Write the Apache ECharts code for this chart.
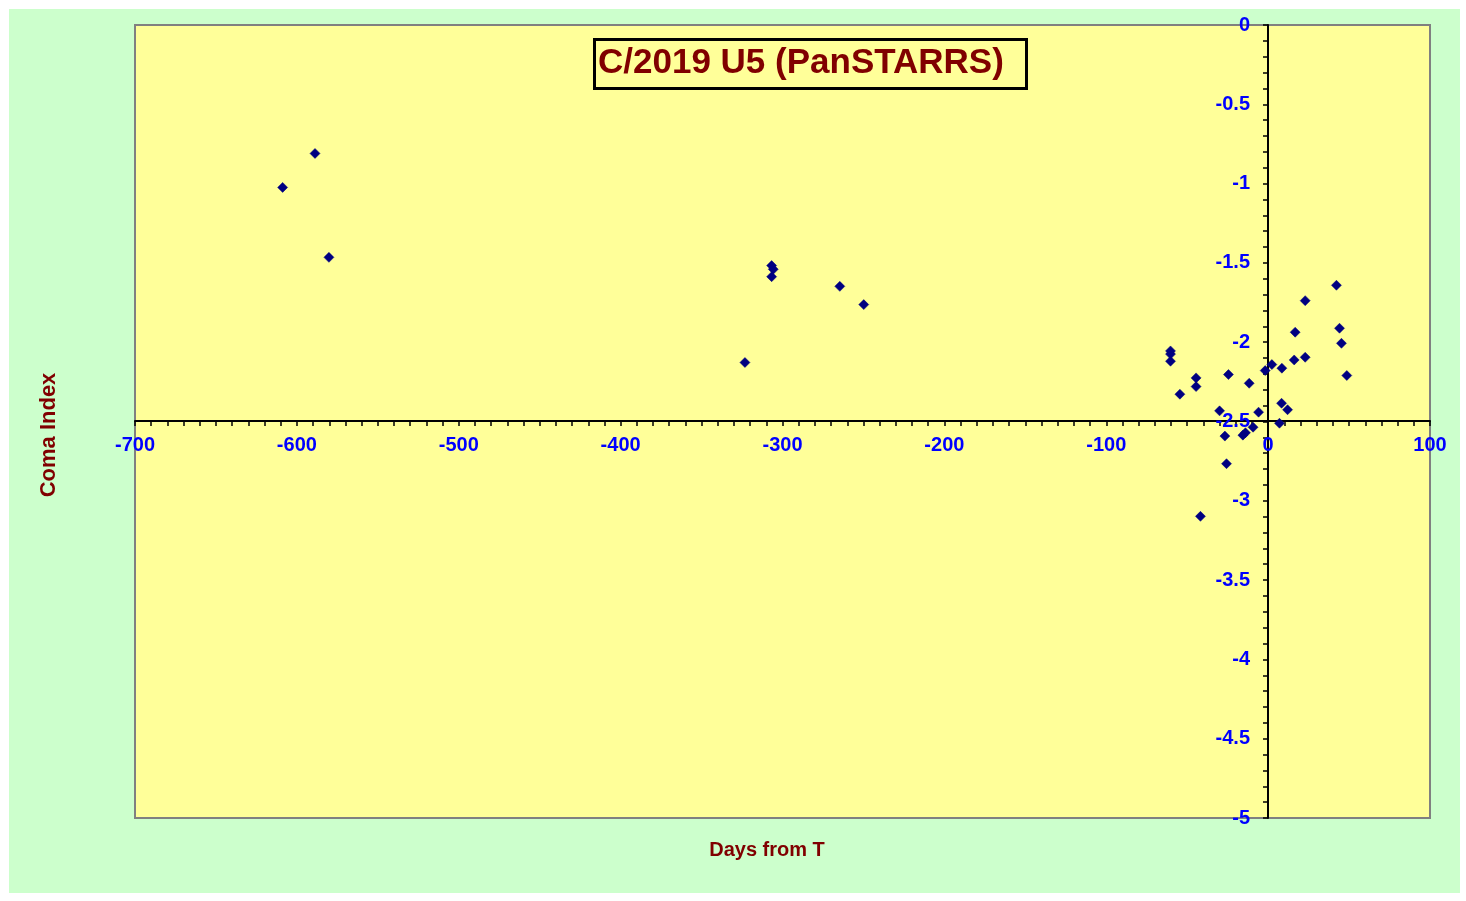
<!DOCTYPE html>
<html><head><meta charset="utf-8">
<script src="https://cdn.jsdelivr.net/npm/echarts@6/dist/echarts.min.js"></script>
<style>
html,body{margin:0;padding:0;background:#fff;}
#bg{position:absolute;left:9px;top:9px;width:1451px;height:884px;background:#CCFFCC;}
#chart{position:absolute;left:0;top:0;width:1466px;height:901px;}
</style></head>
<body><div id="bg"></div><div id="chart"></div>
<script>
const titleText = 'C/2019 U5 (PanSTARRS)';
const xName = 'Days from T';
const yName = 'Coma Index';
const daysFromT = [-608.8, -588.8, -580.2, -306.7, -305.7, -306.7, -323.2, -264.6, -249.8,
  42.2, 22.9, 16.7, 44.1, 45.3, 48.6, 22.9, 16.1, 2.3, -1.8, 8.5,
  -60.3, -60.3, -60.3, -54.5, -44.5, -44.5, -24.5, -11.7, -30.0, -5.9,
  8.3, 12.0, 7.0, -26.7, -15.6, -14.0, -9.3, -25.7, -41.8];
const comaIndex = [-1.024, -0.810, -1.465, -1.517, -1.54, -1.587, -2.128, -1.648, -1.763,
  -1.641, -1.738, -1.937, -1.912, -2.007, -2.210, -2.095, -2.112, -2.141, -2.179, -2.164,
  -2.055, -2.075, -2.120, -2.328, -2.225, -2.280, -2.204, -2.259, -2.433, -2.441,
  -2.385, -2.426, -2.511, -2.592, -2.586, -2.571, -2.536, -2.766, -3.098];

const points = daysFromT.map((d, i) => [d, comaIndex[i]]);
const chart = echarts.init(document.getElementById('chart'));
const lblStyle = {color: '#0000FF', fontFamily: 'Liberation Sans, Arial', fontWeight: 'bold', fontSize: 20};
chart.setOption({
  animation: false,
  backgroundColor: 'transparent',
  grid: {left: 135, top: 25, width: 1295, height: 793, show: true,
    backgroundColor: '#FFFF99', borderColor: '#808080', borderWidth: 2},
  xAxis: {type: 'value', min: -700, max: 100, interval: 100,
    position: 'bottom', offset: -397,
    axisLine: {onZero: false, lineStyle: {color: '#000', width: 2}},
    axisTick: {show: true, inside: false, length: 5, lineStyle: {color: '#000', width: 1.5}},
    minorTick: {show: true, splitNumber: 10, length: 5, lineStyle: {color: '#000', width: 1.5}},
    splitLine: {show: false},
    axisLabel: Object.assign({margin: 14}, lblStyle)},
  yAxis: {type: 'value', min: -5, max: 0, interval: 0.5,
    position: 'left', offset: -1133,
    axisLine: {onZero: false, lineStyle: {color: '#000', width: 2}},
    axisTick: {show: true, inside: false, length: 5, lineStyle: {color: '#000', width: 1.5}},
    minorTick: {show: true, splitNumber: 5, length: 5, lineStyle: {color: '#000', width: 1.5}},
    splitLine: {show: false},
    axisLabel: Object.assign({margin: 18}, lblStyle)},
  series: [{type: 'scatter', data: points, symbol: 'diamond', symbolSize: 10,
    itemStyle: {color: '#000080', borderColor: '#000080', borderWidth: 0.5, opacity: 1}}],
  graphic: [
    {type: 'rect', left: 593, top: 38, shape: {width: 432, height: 49},
      style: {fill: '#FFFF99', stroke: '#000', lineWidth: 3}, z: 100},
    {type: 'text', x: 598, y: 63, z: 101,
      style: {text: titleText, fill: '#800000', font: 'bold 35px "Liberation Sans", Arial', align: 'left', verticalAlign: 'middle'}},
    {type: 'text', x: 767, y: 850, z: 101,
      style: {text: xName, fill: '#800000', font: 'bold 20px "Liberation Sans", Arial', align: 'center', verticalAlign: 'middle'}},
    {type: 'text', x: 49, y: 435, rotation: Math.PI / 2, z: 101,
      style: {text: yName, fill: '#800000', font: 'bold 22px "Liberation Sans", Arial', align: 'center', verticalAlign: 'middle'}}
  ]
});
</script></body></html>
